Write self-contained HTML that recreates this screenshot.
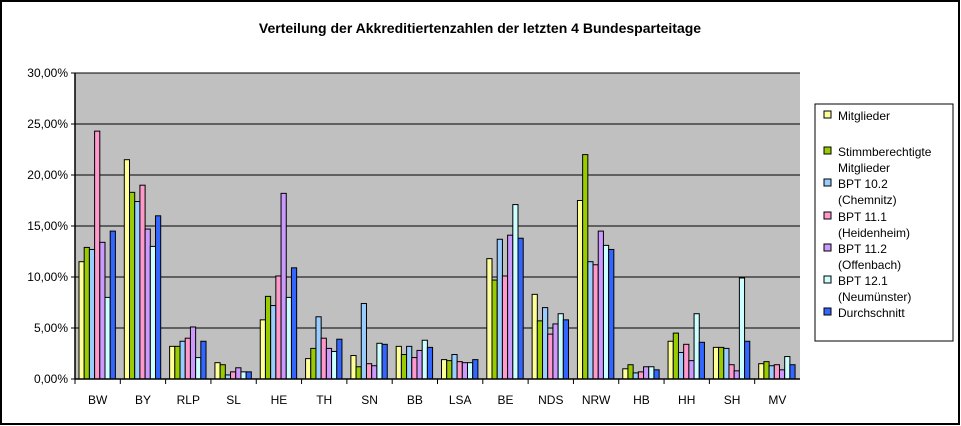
<!DOCTYPE html>
<html><head><meta charset="utf-8"><style>
body{margin:0;background:#fff}
svg{display:block;font-family:"Liberation Sans",Arial,sans-serif}
</style></head><body>
<svg id="chart" width="961" height="426" viewBox="0 0 961 426" xmlns="http://www.w3.org/2000/svg">
<rect x="1" y="1" width="958" height="423" fill="#fff" stroke="#000" stroke-width="2"/>
<text x="480" y="33" font-size="14" font-weight="bold" text-anchor="middle">Verteilung der Akkreditiertenzahlen der letzten 4 Bundesparteitage</text>
<rect x="75" y="73" width="725" height="306" fill="#c0c0c0"/>
<g id="grid"></g>
<g id="bars"></g>
<g id="axes"></g>
<rect x="815" y="104" width="138" height="237" fill="#fff" stroke="#000" stroke-width="1"/>
<g id="legend"></g>
</svg>
<script>
const categories=["BW","BY","RLP","SL","HE","TH","SN","BB","LSA","BE","NDS","NRW","HB","HH","SH","MV"];
const mitglieder=[11.5,21.5,3.2,1.6,5.8,2.0,2.3,3.2,1.9,11.8,8.3,17.5,1.0,3.7,3.1,1.5];
const stimmberechtigte=[12.9,18.3,3.2,1.4,8.1,3.0,1.2,2.4,1.8,9.7,5.7,22.0,1.4,4.5,3.1,1.7];
const bpt102=[12.7,17.4,3.7,0.4,7.2,6.1,7.4,3.2,2.4,13.7,7.0,11.5,0.6,2.6,3.0,1.3];
const bpt111=[24.3,19.0,4.0,0.7,10.1,4.0,1.5,2.1,1.7,10.1,4.4,11.2,0.7,3.4,1.4,1.4];
const bpt112=[13.4,14.7,5.1,1.1,18.2,3.0,1.3,2.8,1.6,14.1,5.4,14.5,1.2,1.8,0.8,0.9];
const bpt121=[8.0,13.0,2.1,0.7,8.0,2.7,3.5,3.8,1.6,17.1,6.4,13.1,1.2,6.4,9.9,2.2];
const durchschnitt=[14.5,16.0,3.7,0.7,10.9,3.9,3.4,3.1,1.9,13.8,5.8,12.7,0.9,3.6,3.7,1.4];
const yTicks=[0,5,10,15,20,25,30];
const yTickLabels=["0,00%","5,00%","10,00%","15,00%","20,00%","25,00%","30,00%"];
const seriesNames=[["Mitglieder"],["Stimmberechtigte","Mitglieder"],["BPT 10.2","(Chemnitz)"],["BPT 11.1","(Heidenheim)"],["BPT 11.2","(Offenbach)"],["BPT 12.1","(Neumünster)"],["Durchschnitt"]];
const series=[mitglieder,stimmberechtigte,bpt102,bpt111,bpt112,bpt121,durchschnitt];
const colors=["#ffff99","#99cc00","#99ccff","#ff99cc","#cc99ff","#ccffff","#3366ff"];
const NS="http://www.w3.org/2000/svg";
const X0=75,X1=800,Y0=379,Y1=73,YMAX=30;
const bw=(X1-X0)/categories.length;
function y(v){return Y0-(v/YMAX)*(Y0-Y1);}
function x(i){return X0+i*bw;}
function mk(tag,attrs,parent){const e=document.createElementNS(NS,tag);for(const k in attrs)e.setAttribute(k,attrs[k]);parent.appendChild(e);return e;}
const grid=document.getElementById('grid'),bars=document.getElementById('bars'),axes=document.getElementById('axes'),leg=document.getElementById('legend');
yTicks.forEach((t,i)=>{
  if(t>0){const l=mk('line',{x1:X0,x2:X1,y1:y(t),y2:y(t),stroke:'#000','stroke-width':1},grid);
  
  }
  const tk=mk('line',{x1:X0-4,x2:X0,y1:y(t),y2:y(t),stroke:'#000'},axes);
  
  
  const tx=mk('text',{x:X0-7,y:y(t)+4,'font-size':12,'text-anchor':'end'},axes);tx.textContent=yTickLabels[i];
  
  
});
const barW=5.2,off=4;
categories.forEach((c,ci)=>{
  series.forEach((s,si)=>{
    const r=mk('rect',{x:x(ci)+off+si*barW,y:y(s[ci]),width:barW,height:Y0-y(s[ci]),fill:colors[si],stroke:'#000','stroke-width':1},bars);
    
    
  });
  const tk=mk('line',{x1:x(ci),x2:x(ci),y1:Y0,y2:Y0+5,stroke:'#000'},axes);
  
  
  const tx=mk('text',{x:x(ci)+bw/2,y:404,'font-size':12,'text-anchor':'middle'},axes);tx.textContent=c;
  
  
});
const yl=mk('line',{x1:X0,x2:X0,y1:Y1,y2:Y0,stroke:'#000','stroke-width':1.5},axes);


const xl=mk('line',{x1:X0,x2:X1,y1:Y0,y2:Y0,stroke:'#000','stroke-width':1.5},axes);


const starts=[115,151,183,216,248,280,312];
seriesNames.forEach((n,i)=>{
  const g=mk('g',{},leg);
  
  
  mk('rect',{x:824,y:starts[i]-4,width:7,height:7,fill:colors[i],stroke:'#000'},g);
  n.forEach((line,j)=>{const t=mk('text',{x:838,y:starts[i]+5+j*16.2,'font-size':12},g);t.textContent=line;});
});
</script>
</body></html>
